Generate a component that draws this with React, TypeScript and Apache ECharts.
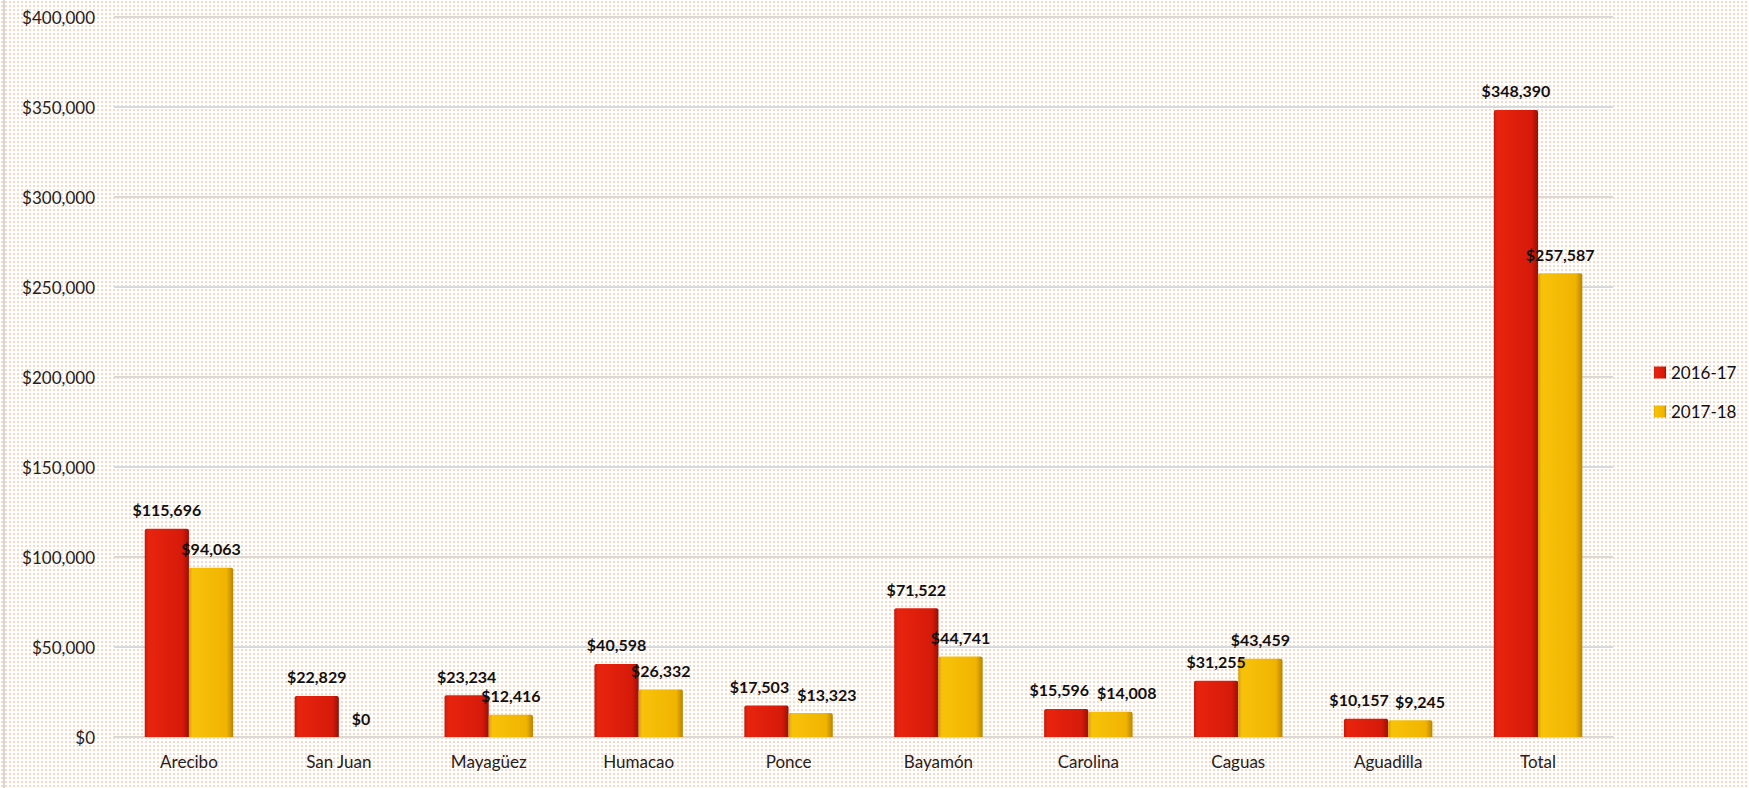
import React, { useEffect, useRef } from "react";
import * as echarts from "echarts";

const categories = ["Arecibo", "San Juan", "Mayagüez", "Humacao", "Ponce", "Bayamón", "Carolina", "Caguas", "Aguadilla", "Total"];
const series2016 = [115696, 22829, 23234, 40598, 17503, 71522, 15596, 31255, 10157, 348390];
const series2017 = [94063, 0, 12416, 26332, 13323, 44741, 14008, 43459, 9245, 257587];
const seriesNames = ["2016-17", "2017-18"];

const fmt = (v: number) => "$" + Math.round(v).toLocaleString("en-US");

export default function App() {
  const ref = useRef<HTMLDivElement>(null);
  useEffect(() => {
    if (!ref.current) return;
    const chart = echarts.init(ref.current, null, { renderer: "svg" });
    const font = "Lato, 'Open Sans', sans-serif";
    const red = new echarts.graphic.LinearGradient(0, 0, 1, 0, [
      { offset: 0, color: "#c4180a" },
      { offset: 0.08, color: "#e8240e" },
      { offset: 0.85, color: "#d61a0a" },
      { offset: 1, color: "#9a1006" },
    ]);
    const yellow = new echarts.graphic.LinearGradient(0, 0, 1, 0, [
      { offset: 0, color: "#d9a000" },
      { offset: 0.08, color: "#f8c20a" },
      { offset: 0.85, color: "#f0b400" },
      { offset: 1, color: "#b88400" },
    ]);
    const label = {
      show: true,
      position: "top" as const,
      distance: 11,
      formatter: (p: any) => fmt(p.value),
      fontFamily: font,
      fontWeight: "bold" as const,
      fontSize: 16,
      color: "#111",
    };
    // push apart labels of neighbouring bars whose tops are close in height
    const spread = (p: any) => {
      const i = p.dataIndex;
      const y1 = chart.convertToPixel({ yAxisIndex: 0 }, series2016[i]) as number;
      const y2 = chart.convertToPixel({ yAxisIndex: 0 }, series2017[i]) as number;
      if (Math.abs(y1 - y2) >= 16) return {};
      const barW = p.rect.width;
      const need = p.labelRect.width + 8 - barW;
      if (need <= 0) return {};
      return p.seriesIndex === 0 ? { dx: -need * 0.3 } : { dx: need * 0.7 };
    };
    chart.setOption({
      animation: false,
      backgroundColor: "transparent",
      grid: { left: 114, right: 136, top: 17, bottom: 51, containLabel: false },
      legend: {
        orient: "vertical",
        left: 1649,
        top: 359,
        itemWidth: 12,
        itemHeight: 12,
        itemGap: 22,
        icon: "rect",
        textStyle: { fontFamily: font, fontSize: 17, color: "#111", lineHeight: 16 },
        data: seriesNames,
      },
      xAxis: {
        type: "category",
        data: categories,
        axisLine: { lineStyle: { color: "#d9d9d9", width: 2 } },
        axisTick: { show: false },
        axisLabel: { fontFamily: font, fontSize: 17, color: "#222", margin: 16 },
      },
      yAxis: {
        type: "value",
        min: 0,
        max: 400000,
        interval: 50000,
        axisLine: { show: false },
        axisTick: { show: false },
        splitLine: { lineStyle: { color: "#d9d9d9", width: 2 } },
        axisLabel: { fontFamily: font, fontSize: 17, color: "#222", margin: 19, formatter: (v: number) => fmt(v) },
      },
      series: [
        {
          name: seriesNames[0],
          type: "bar",
          data: series2016,
          barGap: "0%",
          barCategoryGap: "41%",
          itemStyle: { color: red, borderRadius: [2, 2, 0, 0] },
          label,
          labelLayout: spread,
        },
        {
          name: seriesNames[1],
          type: "bar",
          data: series2017,
          itemStyle: { color: yellow, borderRadius: [2, 2, 0, 0] },
          label,
          labelLayout: spread,
        },
      ],
    });
    return () => chart.dispose();
  }, []);
  return (
    <div
      style={{
        position: "absolute",
        left: 0,
        top: 0,
        width: 1749,
        height: 788,
        background:
          "radial-gradient(circle, #fcd6c2 1px, transparent 1.5px) 0 0 / 4px 4px, #ffffff",
      }}
    >
      <div style={{ position: "absolute", left: 3, top: 0, width: 2, height: 788, background: "#d6d6d6" }} />
      <div ref={ref} style={{ position: "absolute", left: 0, top: 0, width: 1749, height: 788 }} />
    </div>
  );
}
